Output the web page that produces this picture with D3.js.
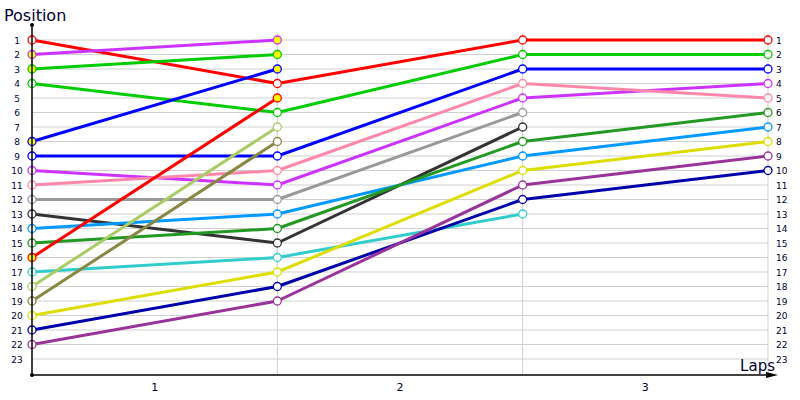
<!DOCTYPE html>
<html>
<head>
<meta charset="utf-8">
<script src="https://cdn.jsdelivr.net/npm/d3@7"></script>
<style>
body { margin: 0; background: #fff; }
text { font-family: "DejaVu Sans", Verdana, sans-serif; }
</style>
</head>
<body>
<div id="chart"></div>
<script>
// Lap chart data: position of each driver at lap 0..3 (null = retired/ended)
const laps = [0, 1, 2, 3];
const lapLabels = ["1", "2", "3"];
const positions = d3.range(1, 24);

const drivers = ["A", "B", "C", "D", "E", "F", "G", "H", "I", "J", "K", "L", "M", "N", "O", "P", "Q", "R", "S"];
const colors = ["#ff0000", "#cc33ff", "#00cc00", "#00cc00", "#0000ff", "#0000ff", "#cc33ff", "#ff88aa", "#999999",
	"#333333", "#0099ff", "#229922", "#ff0000", "#33cccc", "#aacc66", "#888844", "#dddd00", "#0000aa", "#993399"];
const pos0 = [1, 2, 3, 4, 8, 9, 10, 11, 12, 13, 14, 15, 16, 17, 18, 19, 20, 21, 22];
const pos1 = [4, 1, 2, 6, 3, 9, 11, 10, 12, 15, 13, 14, 5, 16, 7, 8, 17, 18, 19];
const pos2 = [1, null, null, 2, null, 3, 5, 4, 6, 7, 9, 8, null, 13, null, null, 10, 12, 11];
const pos3 = [1, null, null, 2, null, 3, 4, 5, null, null, 7, 6, null, null, null, null, 8, 10, 9];
// drivers drawn with yellow-filled markers
const lapped = [false, true, true, false, true, false, false, false, false, false, false, false, true, false, false, false, false, false, false];

const width = 800, height = 400;

let svg = d3.select("#chart").append("svg")
	.attr("width", width)
	.attr("height", height);

let x = d3.scaleLinear().domain([0, 3]).range([32, 768]);
let y = d3.scaleLinear().domain([1, 23]).range([40, 359]);
let axisY = 375;

// Horizontal grid
svg.append("g").selectAll("line").data(positions).enter().append("line")
	.attr("x1", x(0)).attr("x2", x(3))
	.attr("y1", d => y(d)).attr("y2", d => y(d))
	.attr("stroke", "#d0d0d0").attr("stroke-width", 1);

// Vertical grid
svg.append("g").selectAll("line").data(laps.slice(1)).enter().append("line")
	.attr("x1", d => x(d)).attr("x2", d => x(d))
	.attr("y1", 33).attr("y2", axisY)
	.attr("stroke", "#d0d0d0").attr("stroke-width", 1);

// Left position labels
svg.append("g").selectAll("text").data(positions).enter().append("text")
	.attr("x", 17).attr("y", d => y(d) + 3.5)
	.style("text-anchor", "middle")
	.style("font-size", "9px")
	.style("fill", "#000033")
	.text(d => d);

// Right position labels
svg.append("g").selectAll("text").data(positions).enter().append("text")
	.attr("x", 776).attr("y", d => y(d) + 3.5)
	.style("text-anchor", "start")
	.style("font-size", "9px")
	.style("fill", "#000033")
	.text(d => d);

// Lap labels
svg.append("g").selectAll("text").data(lapLabels).enter().append("text")
	.attr("x", (d, i) => (x(i) + x(i + 1)) / 2)
	.attr("y", 391)
	.style("text-anchor", "middle")
	.style("font-size", "11px")
	.style("fill", "#000033")
	.text(d => d);

// Lines
let series = drivers.map((d, i) => ({
	color: colors[i],
	lapped: lapped[i],
	pts: [pos0[i], pos1[i], pos2[i], pos3[i]]
		.map((p, j) => ({lap: laps[j], pos: p}))
		.filter(p => p.pos != null)
}));

let line = d3.line().x(d => x(d.lap)).y(d => y(d.pos));

svg.append("g").selectAll("path").data(series).enter().append("path")
	.attr("d", d => line(d.pts))
	.attr("fill", "none")
	.attr("stroke", d => d.color)
	.attr("stroke-width", 3)
	.attr("stroke-linejoin", "round");

// Markers
series.forEach(function(s) {
	svg.append("g").selectAll("circle").data(s.pts).enter().append("circle")
		.attr("cx", d => x(d.lap))
		.attr("cy", d => y(d.pos))
		.attr("r", 4)
		.attr("fill", s.lapped ? "#ffff00" : "#ffffff")
		.attr("stroke", s.color)
		.attr("stroke-width", 1.3);
});

// Axes
svg.append("line")
	.attr("x1", x(0)).attr("x2", x(0))
	.attr("y1", 25).attr("y2", axisY)
	.attr("stroke", "#000").attr("stroke-width", 1.5);
svg.append("line")
	.attr("x1", x(0)).attr("x2", 770)
	.attr("y1", axisY).attr("y2", axisY)
	.attr("stroke", "#000").attr("stroke-width", 1.5);
svg.append("path")
	.attr("d", "M766," + (axisY - 3) + "L778," + axisY + "L766," + (axisY + 3) + "Z")
	.attr("fill", "#000");
svg.append("circle").attr("cx", x(0)).attr("cy", 25).attr("r", 2).attr("fill", "#000");
svg.append("circle").attr("cx", x(0)).attr("cy", axisY).attr("r", 2).attr("fill", "#000");

// Axis titles
svg.append("text")
	.attr("x", 4).attr("y", 21)
	.style("font-size", "16px")
	.style("fill", "#000033")
	.text("Position");
svg.append("text")
	.attr("x", 775).attr("y", 371)
	.style("text-anchor", "end")
	.style("font-size", "15px")
	.style("fill", "#000033")
	.text("Laps");
</script>
</body>
</html>
